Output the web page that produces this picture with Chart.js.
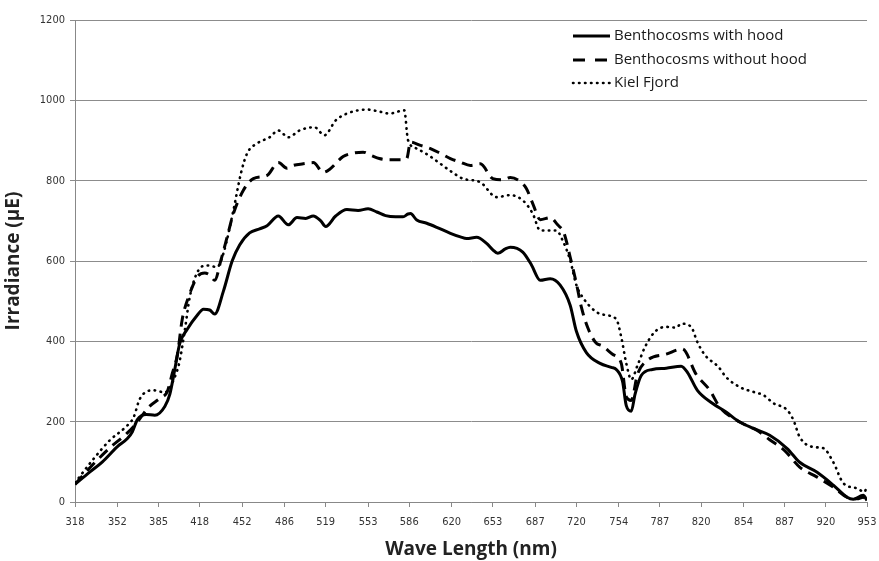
<!DOCTYPE html>
<html>
<head>
<meta charset="utf-8">
<script src="https://cdn.jsdelivr.net/npm/chart.js@4.4.1/dist/chart.umd.min.js"></script>
<style>
  html, body { margin: 0; padding: 0; background: #fff; }
  #wrap { width: 879px; height: 561px; }
</style>
</head>
<body>
<div id="wrap"><canvas id="irrChart" width="879" height="561"></canvas></div>
<script>
// Tick labels of the wave length axis (nm)
const tickLabels = [318, 352, 385, 418, 452, 486, 519, 553, 586, 620, 653, 687, 720, 754, 787, 820, 854, 887, 920, 953];
const yTicks = [0, 200, 400, 600, 800, 1000, 1200];

// Benthocosms with hood
const hoodWl = [318, 330, 340, 352, 360, 364, 368, 375, 382, 390, 394, 398, 402, 408, 416, 421, 426, 430, 437, 444,
  450, 458, 466, 472, 481, 489, 496, 503, 509, 515, 519, 527, 536, 545, 553, 560, 567, 575, 581, 585,
  587, 592, 600, 608, 619, 627, 632, 640, 648, 653, 657, 663, 667, 677, 684, 691, 699, 707, 715, 720,
  728, 739, 748, 752, 757, 760, 764, 767, 772, 781, 792, 804, 809, 817, 829, 840, 851, 862, 875, 889,
  899, 913, 926, 937, 942, 950, 953];
const hoodVal = [44, 75, 100, 138, 158, 175, 205, 218, 216, 238, 268, 330, 395, 430, 465, 480, 478, 468, 525, 600,
  640, 670, 680, 688, 712, 690, 708, 706, 712, 700, 686, 712, 728, 726, 730, 722, 713, 710, 710, 717,
  718, 702, 694, 684, 669, 660, 656, 659, 644, 628, 619, 630, 634, 622, 590, 552, 556, 540, 490, 425,
  372, 345, 335, 330, 300, 240, 226, 268, 315, 330, 333, 338, 323, 278, 246, 224, 199, 183, 166, 133,
  99, 74, 42, 12, 7, 17, 4];

// Benthocosms without hood
const noHoodWl = [318, 332, 346, 360, 367, 377, 386, 392, 396, 400, 404, 409, 416, 422, 426, 430, 435, 440, 445, 453,
  461, 472, 481, 488, 493, 501, 509, 517, 522, 533, 540, 549, 556, 562, 570, 578, 584, 587, 595, 603,
  611, 619, 627, 635, 643, 653, 661, 667, 675, 680, 685, 691, 699, 705, 710, 715, 720, 724, 729, 736,
  740, 749, 756, 760, 764, 769, 777, 792, 805, 816, 827, 835, 851, 865, 875, 887, 899, 913, 926, 937,
  945, 950, 953];
const noHoodVal = [44, 92, 135, 172, 195, 236, 258, 275, 320, 365, 455, 510, 560, 570, 565, 552, 602, 660, 718, 776,
  805, 813, 845, 831, 838, 842, 845, 821, 828, 860, 868, 871, 862, 855, 852, 852, 855, 896, 888, 880,
  868, 855, 846, 838, 842, 805, 802, 808, 798, 780, 743, 703, 708, 690, 670, 610, 544, 485, 435, 395,
  390, 368, 345, 262, 253, 318, 353, 368, 381, 318, 278, 236, 199, 178, 155, 128, 87, 62, 37, 12,
  8, 12, 4];

// Kiel Fjord
const fjordWl = [318, 332, 346, 358, 365, 370, 381, 390, 398, 402, 406, 410, 417, 424, 432, 437, 445, 451, 456, 464,
  474, 481, 489, 498, 510, 518, 527, 536, 552, 562, 570, 582, 585, 592, 602, 611, 620, 629, 643, 656,
  667, 677, 685, 691, 704, 709, 715, 720, 725, 736, 744, 752, 756, 760, 764, 769, 775, 783, 792, 800,
  804, 812, 817, 823, 834, 840, 851, 862, 870, 878, 889, 894, 899, 910, 918, 926, 934, 945, 951, 953];
const fjordVal = [48, 104, 154, 185, 211, 257, 278, 273, 311, 352, 427, 510, 577, 589, 585, 619, 726, 818, 868, 893,
  908, 925, 908, 925, 933, 913, 950, 967, 977, 972, 967, 975, 901, 880, 862, 842, 822, 805, 796, 759,
  764, 751, 718, 676, 676, 651, 602, 540, 510, 473, 465, 455, 410, 345, 305, 340, 386, 424, 436, 434,
  444, 436, 398, 366, 336, 311, 286, 274, 266, 246, 229, 204, 162, 137, 134, 99, 47, 34, 25, 42];

function toPoints(xs, ys) {
    return xs.map((x, i) => ({ x: x, y: ys[i] }));
}

const seriesStyle = [
    { label: 'Benthocosms with hood', wl: hoodWl, val: hoodVal, width: 3, dash: [], cap: 'butt' },
    { label: 'Benthocosms without hood', wl: noHoodWl, val: noHoodVal, width: 3, dash: [11, 7], cap: 'butt' },
    { label: 'Kiel Fjord', wl: fjordWl, val: fjordVal, width: 2.6, dash: [0.5, 5.5], cap: 'round' }
];

// Legend drawn inside the plot, top right
const innerLegend = {
    id: 'innerLegend',
    afterDraw(chart) {
        const ctx = chart.ctx;
        const x0 = 573, x1 = 610, rows = [36, 60, 83];
        ctx.save();
        chart.data.datasets.forEach((ds, i) => {
            const y = rows[i];
            ctx.beginPath();
            ctx.strokeStyle = '#000';
            ctx.lineWidth = ds.borderWidth;
            ctx.lineCap = ds.borderCapStyle;
            ctx.setLineDash(i === 1 ? [12, 10] : ds.borderDash);
            ctx.moveTo(x0, y);
            ctx.lineTo(x1, y);
            ctx.stroke();
            ctx.setLineDash([]);
            ctx.fillStyle = '#1a1a1a';
            ctx.font = '15px "Open Sans"';
            ctx.textBaseline = 'middle';
            ctx.fillText(ds.label, x1 + 4, y);
        });
        ctx.restore();
    }
};

const ctx = document.getElementById('irrChart').getContext('2d');
new Chart(ctx, {
    type: 'line',
    data: {
        datasets: seriesStyle.map(s => ({
            label: s.label,
            data: toPoints(s.wl, s.val),
            borderColor: '#000',
            borderWidth: s.width,
            borderDash: s.dash,
            borderCapStyle: s.cap,
            pointRadius: 0,
            fill: false,
            cubicInterpolationMode: 'monotone'
        }))
    },
    options: {
        responsive: false,
        animation: false,
        layout: { padding: { top: 20, right: 12, left: 0, bottom: 0 } },
        plugins: {
            legend: { display: false },
            tooltip: { enabled: false }
        },
        scales: {
            x: {
                type: 'linear',
                min: 318,
                max: 953,
                afterBuildTicks: s => { s.ticks = tickLabels.map(v => ({ value: v })); },
                afterFit: s => { s.height = 59; s.paddingLeft = 0; s.paddingRight = 0; },
                ticks: {
                    autoSkip: false,
                    maxRotation: 0,
                    padding: 9,
                    color: '#333',
                    font: { family: '"DejaVu Sans Condensed", "DejaVu Sans"', size: 11 },
                    callback: v => String(v)
                },
                grid: { drawOnChartArea: false, drawTicks: true, tickLength: 5, color: '#888' },
                border: { display: true, color: '#888', width: 1 },
                title: {
                    display: true,
                    text: 'Wave Length (nm)',
                    color: '#222',
                    font: { family: '"Open Sans"', size: 19, weight: 'bold' },
                    padding: { top: 0, bottom: 0 }
                }
            },
            y: {
                min: 0,
                max: 1200,
                afterBuildTicks: s => { s.ticks = yTicks.map(v => ({ value: v })); },
                afterFit: s => { s.width = 75; },
                ticks: {
                    padding: 5,
                    color: '#333',
                    font: { family: '"DejaVu Sans Condensed", "DejaVu Sans"', size: 11 },
                    callback: v => String(v)
                },
                grid: { color: '#8c8c8c', lineWidth: 1, drawTicks: true, tickLength: 5 },
                border: { display: true, color: '#888', width: 1 },
                title: {
                    display: true,
                    text: 'Irradiance (\u00b5E)',
                    color: '#222',
                    font: { family: '"Open Sans"', size: 19, weight: 'bold' },
                    padding: { top: 2, bottom: 0 }
                }
            }
        }
    },
    plugins: [innerLegend]
});
</script>
</body>
</html>
